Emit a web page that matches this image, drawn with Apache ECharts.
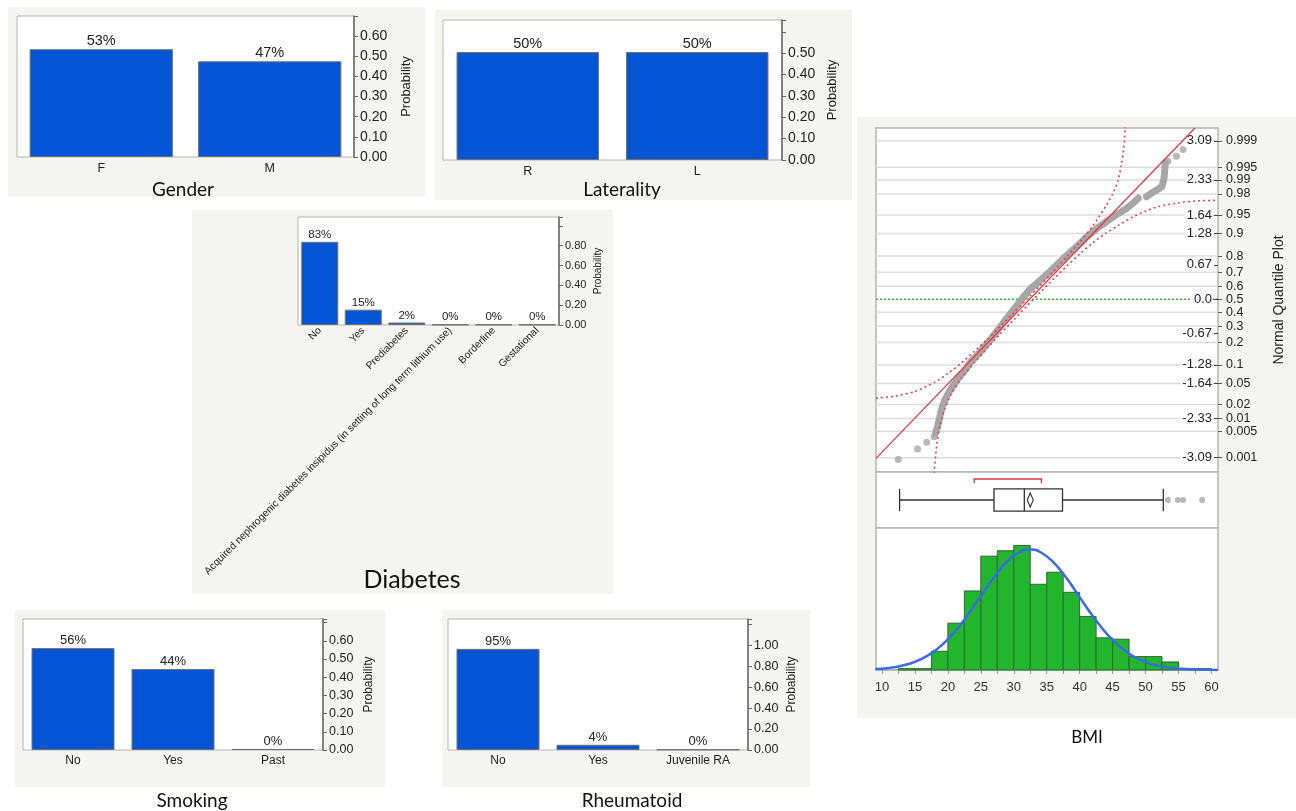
<!DOCTYPE html>
<html><head><meta charset="utf-8">
<script src="https://cdn.jsdelivr.net/npm/echarts@6/dist/echarts.min.js"></script>
<style>html,body{margin:0;padding:0;background:#fff}#c{width:1296px;height:811px}</style>
</head><body><div id="c"></div>
<script>
// ---------- DATA ----------
const genderCats = ['F', 'M'];
const genderVals = [0.535, 0.475];
const genderLabels = ['53%', '47%'];

const latCats = ['R', 'L'];
const latVals = [0.505, 0.505];
const latLabels = ['50%', '50%'];

const diabCats = ['No', 'Yes', 'Prediabetes', 'Acquired nephrogenic diabetes insipidus (in setting of long term lithium use)', 'Borderline', 'Gestational'];
const diabVals = [0.84, 0.155, 0.025, 0.004, 0.004, 0.004];
const diabLabels = ['83%', '15%', '2%', '0%', '0%', '0%'];

const smokeCats = ['No', 'Yes', 'Past'];
const smokeVals = [0.56, 0.445, 0.006];
const smokeLabels = ['56%', '44%', '0%'];

const rheumCats = ['No', 'Yes', 'Juvenile RA'];
const rheumVals = [0.965, 0.05, 0.005];
const rheumLabels = ['95%', '4%', '0%'];

// BMI normal quantile plot
const zTicks = [3.09, 2.33, 1.64, 1.28, 0.67, 0, -0.67, -1.28, -1.64, -2.33, -3.09];
const probLabels = ['0.999', '0.995', '0.99', '0.98', '0.95', '0.9', '0.8', '0.7', '0.6', '0.5', '0.4', '0.3', '0.2', '0.1', '0.05', '0.02', '0.01', '0.005', '0.001'];
const probZ = [3.09, 2.576, 2.326, 2.054, 1.645, 1.282, 0.842, 0.524, 0.253, 0, -0.253, -0.524, -0.842, -1.282, -1.645, -2.054, -2.326, -2.576, -3.09];
const qqTailPoints = [[12.47, -3.125], [15.4, -2.92], [16.8, -2.79], [17.9, -2.68], [53.4, 2.69], [54.7, 2.79], [55.7, 2.92]];
const qqDense = [[18.1, -2.62], [18.4, -2.5], [18.7, -2.35], [18.9, -2.22], [19.2, -2.08], [19.6, -1.95], [20.2, -1.8], [21.0, -1.65], [21.7, -1.52], [22.5, -1.4], [23.5, -1.22], [24.4, -1.1], [25.9, -0.88], [27.4, -0.63], [28.9, -0.38], [30.2, -0.17], [31.5, 0.05], [32.5, 0.2], [33.5, 0.31], [35.5, 0.54], [37.5, 0.79], [39.5, 1.02], [41.1, 1.22], [42.6, 1.38], [44.1, 1.52], [45.6, 1.65], [47.1, 1.77], [48.1, 1.87], [48.9, 1.97], '-', [50.15, 2.0], [50.9, 2.07], [51.7, 2.13], [52.5, 2.2], [52.8, 2.35], [52.9, 2.5], [53.0, 2.66]];
const fitLine = [[9.09, -3.105], [57.5, 3.34]];
const upperBand = [[9.1, -1.93], [12, -1.89], [15, -1.8], [18, -1.62], [20, -1.45], [22, -1.25], [24, -1.02], [26, -0.78], [28, -0.52], [30, -0.26], [32, 0.0], [34, 0.27], [36, 0.54], [38, 0.82], [40, 1.11], [42, 1.43], [43, 1.62], [44, 1.82], [45, 2.05], [45.8, 2.3], [46.3, 2.6], [46.7, 2.95], [46.95, 3.4]];
const lowerBand = [[17.9, -3.4], [18.3, -2.85], [18.8, -2.45], [19.5, -2.15], [20.5, -1.85], [22, -1.55], [24, -1.24], [26, -0.95], [28, -0.67], [30, -0.4], [32, -0.13], [34, 0.13], [36, 0.39], [38, 0.64], [40, 0.88], [42, 1.1], [44, 1.29], [46, 1.45], [48, 1.6], [50, 1.72], [52, 1.81], [55, 1.88], [58, 1.92], [61, 1.93]];

// BMI box plot
const boxStats = [12.67, 27.0, 31.6, 37.4, 52.7]; // min, q1, median, q3, max (whiskers)
const boxMean = 32.5;
const shortestHalf = [24.0, 34.2];
const boxOutliers = [53.4, 54.9, 55.7, 58.6];

// BMI histogram: [from, to, count]
const histBins = [[12.5, 15, 1], [15, 17.5, 1], [17.5, 20, 14], [20, 22.5, 35], [22.5, 25, 59], [25, 27.5, 85], [27.5, 30, 89], [30, 32.5, 93], [32.5, 35, 64], [35, 37.5, 73], [37.5, 40, 58], [40, 42.5, 40], [42.5, 45, 24], [45, 47.5, 23], [47.5, 50, 10], [50, 52.5, 10], [52.5, 55, 6], [55, 57.5, 1], [57.5, 60, 1]];
const normalCurve = [[9, 0.7], [11, 1.5], [13, 3.2], [15, 6.1], [17, 10.9], [19, 18.2], [21, 28.2], [23, 40.9], [25, 55.1], [27, 69.2], [29, 81], [31, 88.3], [32.45, 90], [34, 88.1], [36, 80.5], [38, 68.6], [40, 54.4], [42, 40.2], [44, 27.7], [46, 17.8], [48, 10.6], [50, 5.9], [52, 3.1], [54, 1.5], [56, 0.7], [58, 0.3], [61, 0.07]];
const bmiTickLabels = [10, 15, 20, 25, 30, 35, 40, 45, 50, 55, 60];
const bmiTicks = [10, 12.5, 15, 17.5, 20, 22.5, 25, 27.5, 30, 32.5, 35, 37.5, 40, 42.5, 45, 47.5, 50, 52.5, 55, 57.5, 60];

// ---------- CHART ----------
const FONT = '"Liberation Sans", Arial, sans-serif';
const TFONT = 'Lato, "Open Sans", sans-serif';
const X_MIN = 9.09, X_MAX = 61.0;
const grids = [], xAxes = [], yAxes = [], series = [];

function barPanel(g, cats, vals, labels, ymax, yint, labelMax, gap, fs, catFs, nameGap, nameFs, catExtra) {
  const i = grids.length;
  grids.push(Object.assign({show: true, backgroundColor: '#fff', borderColor: '#b4b4b4', borderWidth: 1}, g));
  xAxes.push({type: 'category', gridIndex: i, data: cats, axisLine: {show: false}, axisTick: {show: false},
    axisLabel: Object.assign({color: '#222', fontSize: catFs, fontFamily: FONT, margin: 5, interval: 0}, catExtra || {})});
  yAxes.push({type: 'value', gridIndex: i, position: 'right', min: 0, max: ymax, interval: yint,
    axisLine: {show: true, lineStyle: {color: '#666', width: 1.5}},
    axisTick: {show: true, length: 4, lineStyle: {color: '#666'}},
    axisLabel: {color: '#222', fontSize: fs, fontFamily: FONT, margin: 6, formatter: v => v > labelMax + 1e-9 ? '' : v.toFixed(2)},
    splitLine: {show: false},
    name: 'Probability', nameLocation: 'middle', nameRotate: 90, nameGap: nameGap,
    nameTextStyle: {fontSize: nameFs, color: '#222', fontFamily: FONT}});
  series.push({type: 'bar', xAxisIndex: i, yAxisIndex: i, data: vals, barCategoryGap: gap,
    itemStyle: {color: '#0455d5', borderColor: '#707070', borderWidth: 1},
    label: {show: true, position: 'top', distance: 1, color: '#222', fontSize: fs + 0.5, fontFamily: FONT,
      formatter: p => labels[p.dataIndex]}});
}

barPanel({left: 17, top: 16, width: 337, height: 141}, genderCats, genderVals, genderLabels, 0.7, 0.1, 0.65, '15%', 14, 12.5, 46, 13);
barPanel({left: 443, top: 20, width: 339, height: 140}, latCats, latVals, latLabels, 0.655, 0.1, 0.55, '16%', 14, 12.5, 44, 13);
barPanel({left: 298, top: 217, width: 261, height: 108}, diabCats, diabVals, diabLabels, 1.09, 0.2, 0.9, '15%', 11, 10.3, 34, 10, {rotate: 45, margin: 4});
barPanel({left: 23, top: 619, width: 300, height: 131}, smokeCats, smokeVals, smokeLabels, 0.72, 0.1, 0.65, '17%', 12.5, 12, 40, 12);
barPanel({left: 448, top: 619, width: 300, height: 131}, rheumCats, rheumVals, rheumLabels, 1.25, 0.2, 1.05, '17%', 12.5, 12, 38, 12);

// Quantile plot grid (5)
grids.push({left: 876, top: 128, width: 342, height: 344, show: true, backgroundColor: '#fff', borderColor: '#b4b4b4', borderWidth: 1.5});
xAxes.push({type: 'value', gridIndex: 5, min: X_MIN, max: X_MAX, show: false});
yAxes.push({type: 'value', gridIndex: 5, position: 'right', min: -3.37, max: 3.34, z: 4,
  axisLine: {show: false}, splitLine: {show: false},
  axisTick: {show: true, inside: true, length: 4, customValues: zTicks, lineStyle: {color: '#444'}},
  axisLabel: {inside: true, customValues: zTicks, margin: 5, color: '#222', fontSize: 13, fontFamily: FONT,
    backgroundColor: '#fff', padding: [0, 1, 0, 2],
    formatter: v => v === 0 ? '0.0' : v.toFixed(2)}});
yAxes.push({type: 'value', gridIndex: 5, position: 'right', min: -3.37, max: 3.34,
  axisLine: {show: false}, splitLine: {show: false},
  axisTick: {show: true, length: 4, customValues: probZ, lineStyle: {color: '#555'}},
  axisLabel: {customValues: probZ, margin: 8, color: '#222', fontSize: 12.5, fontFamily: FONT,
    formatter: v => { const k = probZ.findIndex(z => Math.abs(z - v) < 1e-6); return k >= 0 ? probLabels[k] : ''; }},
  name: 'Normal Quantile Plot', nameLocation: 'middle', nameRotate: 90, nameGap: 54,
  nameTextStyle: {fontSize: 14, color: '#222', fontFamily: FONT}});

// Box plot grid (6)
grids.push({left: 876, top: 472, width: 342, height: 56, show: true, backgroundColor: '#fff', borderColor: '#b4b4b4', borderWidth: 1.5});
xAxes.push({type: 'value', gridIndex: 6, min: X_MIN, max: X_MAX, show: false});
yAxes.push({type: 'value', gridIndex: 6, min: 0, max: 1, show: false});

// Histogram grid (7)
grids.push({left: 876, top: 528, width: 342, height: 142, show: true, backgroundColor: '#fff', borderColor: '#b4b4b4', borderWidth: 1.5});
xAxes.push({type: 'value', gridIndex: 7, min: X_MIN, max: X_MAX,
  axisLine: {show: true, lineStyle: {color: '#b4b4b4', width: 1.5}},
  axisTick: {show: true, length: 4, customValues: bmiTicks, lineStyle: {color: '#999'}},
  axisLabel: {customValues: bmiTickLabels, margin: 11, color: '#333', fontSize: 13, fontFamily: FONT},
  splitLine: {show: false}});
yAxes.push({type: 'value', gridIndex: 7, min: 0, max: 106, show: false});

// QQ gridlines
series.push({type: 'custom', xAxisIndex: 5, yAxisIndex: 5, z: 1, silent: true,
  data: probZ.map(z => [X_MIN, z]),
  renderItem: (params, api) => {
    const z = api.value(1);
    const p1 = api.coord([X_MIN, z]), p2 = api.coord([X_MAX, z]);
    const isMid = z === 0;
    return {type: 'line', shape: {x1: p1[0], y1: p1[1], x2: p2[0], y2: p2[1]},
      style: isMid ? {stroke: '#2fbf2f', lineWidth: 1.5, lineDash: [2, 2]} : {stroke: '#dcdcdc', lineWidth: 1.5}};
  }});
series.push({type: 'line', xAxisIndex: 5, yAxisIndex: 5, z: 3, data: qqDense, symbol: 'none', connectNulls: false,
  lineStyle: {color: '#a6a6a6', width: 7, cap: 'round', join: 'round'}, silent: true});
series.push({type: 'scatter', xAxisIndex: 5, yAxisIndex: 5, z: 3, data: qqTailPoints, symbolSize: 7,
  itemStyle: {color: '#a6a6a6'}, silent: true});
series.push({type: 'line', xAxisIndex: 5, yAxisIndex: 5, z: 5, data: fitLine, symbol: 'none',
  lineStyle: {color: '#e8323c', width: 1.2}, silent: true});
series.push({type: 'line', xAxisIndex: 5, yAxisIndex: 5, z: 5, data: upperBand, symbol: 'none', smooth: 0.2,
  lineStyle: {color: '#ee3f48', width: 1.6, type: [2, 3]}, silent: true});
series.push({type: 'line', xAxisIndex: 5, yAxisIndex: 5, z: 5, data: lowerBand, symbol: 'none', smooth: 0.2,
  lineStyle: {color: '#ee3f48', width: 1.6, type: [2, 3]}, silent: true});

// Box plot
series.push({type: 'custom', xAxisIndex: 6, yAxisIndex: 7, z: 3, silent: true,
  data: [[boxStats[0], 0.5, boxStats[1], boxStats[2], boxStats[3], boxStats[4], boxMean, shortestHalf[0], shortestHalf[1]]],
  renderItem: (params, api) => {
    const v = k => api.value(k);
    const X = x => api.coord([x, 0.5])[0];
    const Y = y => api.coord([X_MIN, y])[1];
    const yc = Y(0.5), yt = Y(0.7), yb = Y(0.3), yr = Y(0.875), yr2 = Y(0.8);
    const xmin = X(v(0)), q1 = X(v(2)), med = X(v(3)), q3 = X(v(4)), xmax = X(v(5)), xm = X(v(6)), s0 = X(v(7)), s1 = X(v(8));
    const st = {stroke: '#333', lineWidth: 1.3};
    return {type: 'group', children: [
      {type: 'line', shape: {x1: xmin, y1: yc, x2: q1, y2: yc}, style: st},
      {type: 'line', shape: {x1: q3, y1: yc, x2: xmax, y2: yc}, style: st},
      {type: 'line', shape: {x1: xmin, y1: yt, x2: xmin, y2: yb}, style: st},
      {type: 'line', shape: {x1: xmax, y1: yt, x2: xmax, y2: yb}, style: st},
      {type: 'rect', shape: {x: q1, y: yt, width: q3 - q1, height: yb - yt}, style: {fill: '#fff', stroke: '#333', lineWidth: 1.3}},
      {type: 'line', shape: {x1: med, y1: yt, x2: med, y2: yb}, style: st},
      {type: 'polygon', shape: {points: [[xm, yc - 7], [xm + 3, yc], [xm, yc + 7], [xm - 3, yc]]}, style: {fill: '#fff', stroke: '#333', lineWidth: 1.1}},
      {type: 'polyline', shape: {points: [[s0, yr2], [s0, yr], [s1, yr], [s1, yr2]]}, style: {stroke: '#e8323c', lineWidth: 1.3, fill: null}}
    ]};
  }});
series.push({type: 'scatter', xAxisIndex: 6, yAxisIndex: 7, z: 4, data: boxOutliers.map(x => [x, 0.5]), symbolSize: 6,
  itemStyle: {color: '#a6a6a6'}, silent: true});

// Histogram
series.push({type: 'custom', xAxisIndex: 7, yAxisIndex: 8, z: 3, silent: true, data: histBins,
  renderItem: (params, api) => {
    const a = api.coord([api.value(0), api.value(2)]);
    const b = api.coord([api.value(1), 0]);
    return {type: 'rect', shape: {x: a[0], y: a[1], width: b[0] - a[0], height: b[1] - a[1]},
      style: {fill: '#22b52e', stroke: '#2c6b31', lineWidth: 1}};
  }});
series.push({type: 'line', xAxisIndex: 7, yAxisIndex: 8, z: 5, data: normalCurve, symbol: 'none', smooth: true,
  lineStyle: {color: '#3a6be6', width: 2.5}, silent: true});

// panels and titles
const panelFill = '#f4f4f0';
function panel(x, y, w, h) { return {type: 'rect', z: -100, shape: {x, y, width: w, height: h}, style: {fill: panelFill}, silent: true}; }
function title(text, x, y, size) { return {type: 'text', z: 100, x, y, style: {text, x: 0, y: 0, textAlign: 'center', textVerticalAlign: 'middle', align: 'center', verticalAlign: 'middle', font: size + 'px ' + TFONT, fill: '#111'}, silent: true}; }

const option = {
  animation: false,
  backgroundColor: '#fff',
  grid: grids, xAxis: xAxes, yAxis: yAxes, series,
  graphic: [
    panel(8, 7, 417, 190), panel(435, 10, 417, 190), panel(192, 210, 421, 384),
    panel(15, 610, 370, 177), panel(442, 610, 368, 177), panel(857, 117, 439, 601),
    title('Gender', 183, 190, 19), title('Laterality', 622, 190, 19), title('Diabetes', 412, 580, 25),
    title('Smoking', 192, 801, 19), title('Rheumatoid', 632, 801, 19), title('BMI', 1087, 738, 17)
  ]
};
const chart = echarts.init(document.getElementById('c'));
chart.setOption(option);
</script>
</body></html>
